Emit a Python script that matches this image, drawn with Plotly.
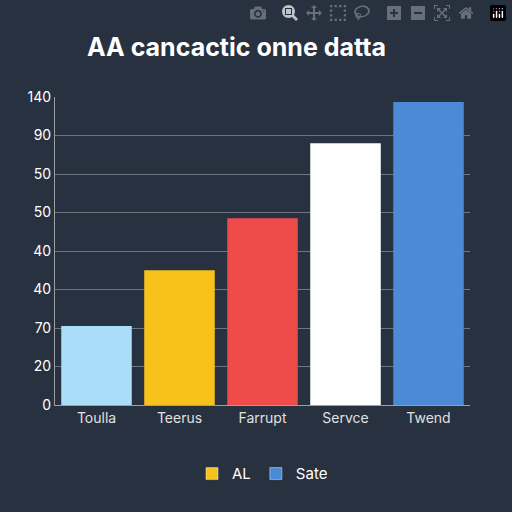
import plotly.graph_objects as go

categories = ["Toulla", "Teerus", "Farrupt", "Servce", "Twend"]
values = [2.05, 3.5, 4.85, 6.8, 7.87]
bar_colors = ["#a9ddf8", "#f7c21b", "#ef4b4b", "#ffffff", "#4c8ad6"]
tick_pos = [0, 1, 2, 3, 4, 5, 6, 7, 8]
tick_text = ["0", "20", "70", "40", "40", "50", "50", "90", "140"]
legend_names = ["AL", "Sate"]
legend_colors = ["#f7c21b", "#4c8ad6"]

bg = "#27313f"
fig = go.Figure()
fig.add_trace(go.Bar(x=categories, y=values, marker=dict(color=bar_colors, line=dict(width=0)),
                     width=0.85, showlegend=False))
for name, col in zip(legend_names, legend_colors):
    fig.add_trace(go.Bar(x=[None], y=[None], name=name, marker_color=col))

fig.update_layout(
    width=512, height=512, paper_bgcolor=bg, plot_bgcolor=bg,
    margin=dict(l=55, r=42, t=97, b=107),
    font=dict(family="Inter, DejaVu Sans", color="#e8e8e8", size=14),
    title=dict(text="<b>AA cancactic onne datta</b>", x=0.17, xanchor="left", y=0.925,
               font=dict(size=25, color="white")),
    bargap=0.15,
    legend=dict(orientation="h", x=0.5, xanchor="center", y=-0.17, yanchor="top",
                font=dict(size=15, color="white"), itemwidth=30, tracegroupgap=0),
)
fig.update_yaxes(range=[0, 8], tickvals=tick_pos, ticktext=tick_text,
                 gridcolor="#6b7480", gridwidth=1, showline=True, linecolor="#9aa0a8",
                 zeroline=False, ticks="", tickfont=dict(size=14, color="white"))
fig.update_xaxes(showline=True, linecolor="#9aa0a8", tickfont=dict(size=14, color="#e0e0e0"))

fig.write_html("out.html",
               post_script="document.body.style.margin='0';document.body.style.background='#27313f';")
